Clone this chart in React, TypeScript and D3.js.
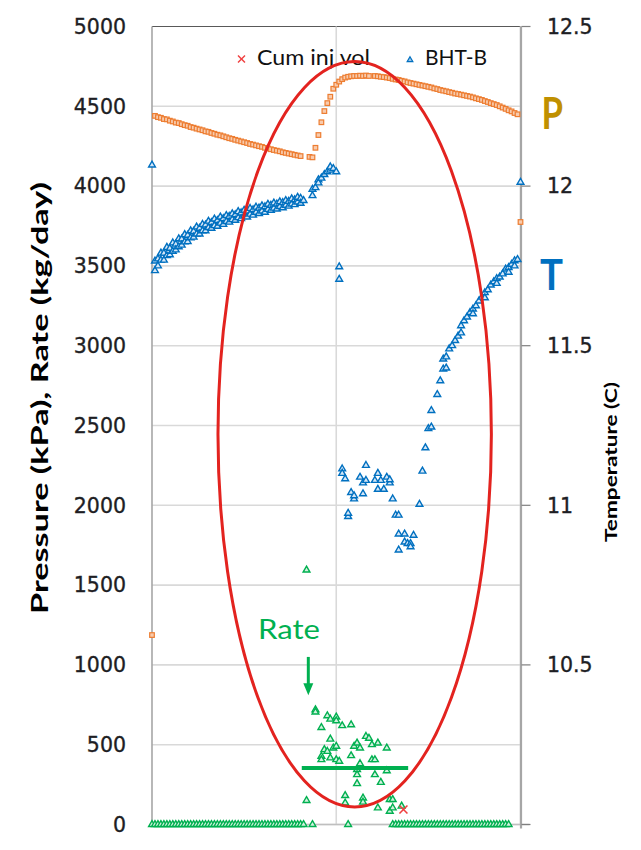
import React from "react";
import * as d3 from "d3";

// Logged at a fixed interval; each entry is one reading slot.
// An entry may hold several readings (array) or none (null).
const SAMPLE_STEP_H = 0.5;

// Bottom-hole pressure, kPa
const pressureKPa: (number | null)[] = [
  1187,
  4440, 4432, 4428, 4420, 4418, 4410, 4405, 4398, 4395, 4388,
  4382, 4378, 4370, 4366, 4360, 4355, 4350, 4343, 4340, 4333,
  4328, 4322, 4318, 4312, 4306, 4300, 4296, 4290, 4285, 4280,
  4275, 4270, 4264, 4260, 4255, 4250, 4246, 4240, 4236, 4231,
  4226, 4222, 4218, 4212, 4208, 4204, 4200, 4196, 4192, 4188,
  null, null, 4183, 4180, 4240, 4320, 4400, 4470, 4520, 4560,
  4610, 4635, 4655, 4670, 4680, 4685, 4688, 4690, 4690, 4692,
  4690, 4693, 4690, null, 4690, 4688, 4685, 4683, 4680, 4677,
  4672, 4668, 4665, 4660, 4656, 4650, 4646, 4642, 4638, 4634,
  4630, 4626, 4622, 4618, 4612, 4608, 4602, 4598, 4594, 4589,
  4585, 4580, 4577, 4573, 4569, 4565, 4561, 4556, 4550, 4545,
  4540, 4533, 4527, 4520, 4514, 4508, 4500, 4492, 4484, 4475,
  4468, 4458, 4450, 3775,
];

// BHT-B bottom-hole temperature, deg C
const temperatureC: (number | number[] | null)[] = [
  12.066,
  [11.735, 11.765], [11.772, 11.75], [11.768, 11.79], [11.79, 11.768], [11.782, 11.808],
  [11.805, 11.785], [11.796, 11.822], [11.818, 11.8], [11.81, 11.835], [11.834, 11.815],
  [11.825, 11.848], [11.846, 11.826], [11.838, 11.86], [11.858, 11.84], [11.85, 11.872],
  [11.868, 11.85], [11.86, 11.88], [11.878, 11.86], [11.87, 11.89], [11.886, 11.868],
  [11.876, 11.897], [11.892, 11.874], [11.884, 11.903], [11.898, 11.88], [11.889, 11.908],
  [11.905, 11.887], [11.895, 11.913], [11.91, 11.893], [11.901, 11.92], [11.916, 11.898],
  [11.906, 11.924], [11.921, 11.903], [11.912, 11.93], [11.926, 11.909], [11.918, 11.934],
  [11.931, 11.914], [11.922, 11.938], [11.935, 11.918], [11.927, 11.943], [11.94, 11.924],
  [11.931, 11.947], [11.944, 11.928], [11.936, 11.951], [11.948, 11.932], [11.94, 11.955],
  [11.952, 11.937], [11.944, 11.96], [11.957, 11.942], [11.95, 11.965], [11.962, 11.946],
  11.955, null, null, [11.97, 11.99], 11.995, [12.02, 12.01], 12.025, 12.036, 12.045, [12.05, 12.06],
  12.055, 12.045, [11.747, 11.708], [11.114, 11.1], 11.083, [10.965, 10.975], 11.04, [11.02, 11.03], null, 11.088,
  [11.07, 11.036], [11.125, 11.078], null, null, 11.078, [11.1, 11.05], 11.078, 11.05, 11.088, [11.07, 11.08],
  11.02, 10.969, [10.969, 10.91, 10.86], null, [10.91, 10.885], 10.88, [10.88, 10.87], 10.906, null, 11.003,
  11.107, 11.18, 11.24, [11.245, 11.297], null, 11.347, 11.39, [11.427, 11.458], [11.43, 11.465], 11.49,
  11.5, 11.516, 11.53, [11.54, 11.5625], 11.578, 11.59, 11.604, [11.615, 11.6], 11.625, 11.64,
  11.652, [11.666, 11.65], 11.675, 11.69, 11.7, [11.71, 11.695], 11.715, 11.725, 11.74, [11.745, 11.73],
  11.755, [11.766, 11.75], 11.77, 12.012,
];

// Injection rate, kg/day
const rateKgDay: (number | number[] | null)[] = [
  0, 0, 0, 0, 0, 0, 0, 0, 0, 0,
  0, 0, 0, 0, 0, 0, 0, 0, 0, 0,
  0, 0, 0, 0, 0, 0, 0, 0, 0, 0,
  0, 0, 0, 0, 0, 0, 0, 0, 0, 0,
  0, 0, 0, 0, 0, 0, 0, 0, 0, 0,
  0, 0, [1594, 150], null, 0, [719, 705], null, [608, 427, 406], 469, [681, 458],
  [660, 535, 417], 479, [673, 650, 490, 406], 396, 619, [181, 135], 0, [625, 431], 490, [510, 344, 312, 256],
  [479, 381], [166, 140], 552, 540, [500, 406], [406, 312], [104, 510], 264, null, [479, 337],
  [156, 83], [156, 104, 0], 0, 0, [115, 0], 0, 0, 0, 0, 0,
  0, 0, 0, 0, 0, 0, 0, 0, 0, 0,
  0, 0, 0, 0, 0, 0, 0, 0, 0, 0,
  0, 0, 0, 0, 0, 0, 0, 0, 0, 0,
  0, null, null, null, null,
];

// Cumulative injected volume
const cumInjTimeH = [42.3];
const cumInjVol = [94];

// Mean rate over the injection window
const meanRate = 354;
const meanRateSpanH = [25.2, 43.1];

// Axis ticks
const pressureTicks = [0, 500, 1000, 1500, 2000, 2500, 3000, 3500, 4000, 4500, 5000];
const temperatureTicks = [10, 10.5, 11, 11.5, 12, 12.5];
const temperatureTickLabels = ["", "10.5", "11", "11.5", "12", "12.5"];
const timeGridH = [0, 31, 62];
const legendLabels = ["Cum inj vol", "BHT-B"];

const W = 641;
const H = 850;
const PLOT = { left: 152, right: 520.5, top: 26.5, bottom: 824.5 };

const ORANGE = "#ED7D31";
const BLUE = "#0070C0";
const GREEN = "#00B050";
const RED = "#E3231F";
const LABEL = "#1e1e24";

type Pt = { t: number; v: number };
const toPoints = (series: (number | number[] | null)[]): Pt[] =>
  series.flatMap((entry, i) =>
    entry == null
      ? []
      : (Array.isArray(entry) ? entry : [entry]).map((v) => ({ t: i * SAMPLE_STEP_H, v }))
  );

export default function App() {
  const x = d3.scaleLinear().domain([0, 62]).range([PLOT.left, PLOT.right]);
  const yP = d3.scaleLinear().domain([0, 5000]).range([PLOT.bottom, PLOT.top]);
  const yT = d3.scaleLinear().domain([10, 12.5]).range([PLOT.bottom, PLOT.top]);

  const tri = d3.symbol().type(d3.symbolTriangle).size(20)() as string;
  const triSmall = d3.symbol().type(d3.symbolTriangle).size(14)() as string;

  const pPts = toPoints(pressureKPa);
  const tPts = toPoints(temperatureC);
  const rPts = toPoints(rateKgDay);

  // Highlight ellipse around the injection event (data units)
  const ell = { t: 34.1, v: 2445, rt: 23.0, rv: 2335 };
  const ecx = x(ell.t);
  const ecy = yP(ell.v);
  const erx = x(ell.t + ell.rt) - ecx;
  const ery = ecy - yP(ell.v + ell.rv);

  // Arrow pointing at the first rate readings
  const arrowT = 26.3;
  const ax = x(arrowT);
  const ay0 = yP(1050);
  const ay1 = yP(810);

  return (
    <svg
      width={W}
      height={H}
      style={{ position: "absolute", left: 0, top: 0, background: "#fff" }}
      xmlns="http://www.w3.org/2000/svg"
    >
      <rect width={W} height={H} fill="#fff" />

      {/* horizontal gridlines */}
      {pressureTicks.map((d) => (
        <line
          key={"hg" + d}
          x1={PLOT.left}
          x2={PLOT.right}
          y1={yP(d)}
          y2={yP(d)}
          stroke={d === 5000 ? "#595959" : "#d9d9d9"}
          strokeWidth={d === 5000 ? 1.2 : 1.6}
        />
      ))}
      {/* vertical gridlines */}
      {timeGridH.map((d) => (
        <line
          key={"vg" + d}
          x1={x(d)}
          x2={x(d)}
          y1={PLOT.top}
          y2={PLOT.bottom}
          stroke={d === 0 ? "#a6a6a6" : "#d9d9d9"}
          strokeWidth={1.6}
        />
      ))}

      {/* bottom axis line */}
      <line x1={PLOT.left} x2={PLOT.right + 9} y1={PLOT.bottom} y2={PLOT.bottom} stroke="#bfbfbf" strokeWidth={1.6} />

      {/* right (temperature) axis */}
      <line x1={PLOT.right + 0.5} x2={PLOT.right + 0.5} y1={PLOT.top} y2={PLOT.bottom + 4} stroke="#a6a6a6" strokeWidth={2.2} />
      {temperatureTicks.map((d) => (
        <line key={"rt" + d} x1={PLOT.right + 1} x2={PLOT.right + 10} y1={yT(d)} y2={yT(d)} stroke="#7f7f7f" strokeWidth={1.2} />
      ))}

      {/* left tick labels */}
      {pressureTicks.map((d) => (
        <text
          key={"lt" + d}
          x={126}
          y={yP(d)}
          dy="0.36em"
          textAnchor="end"
          fontFamily="DejaVu Sans"
          fontSize={20.5}
          fill={LABEL}
          stroke={LABEL}
          strokeWidth={0.35}
        >
          {d}
        </text>
      ))}
      {/* right tick labels */}
      {temperatureTicks.map((d, i) => (
        <text
          key={"rl" + d}
          x={547}
          y={yT(d)}
          dy="0.36em"
          textAnchor="start"
          fontFamily="DejaVu Sans"
          fontSize={20.5}
          fill={LABEL}
          stroke={LABEL}
          strokeWidth={0.35}
        >
          {temperatureTickLabels[i]}
        </text>
      ))}

      {/* axis titles */}
      <text
        transform="translate(48,398) rotate(-90)"
        textAnchor="middle"
        fontFamily="Lato"
        fontWeight={700}
        fontSize={23}
        textLength={432}
        lengthAdjust="spacingAndGlyphs"
        fill="#000"
      >
        Pressure (kPa), Rate (kg/day)
      </text>
      <text
        transform="translate(617,462) rotate(-90)"
        textAnchor="middle"
        fontFamily="Lato"
        fontWeight={700}
        fontSize={17}
        textLength={160}
        lengthAdjust="spacingAndGlyphs"
        fill="#000"
      >
        Temperature (C)
      </text>

      {/* pressure markers */}
      <g>
        {pPts.map((p, i) => (
          <rect
            key={"p" + i}
            x={x(p.t) - 2.3}
            y={yP(p.v) - 2.3}
            width={4.6}
            height={4.6}
            fill="#F8CBAD"
            stroke={ORANGE}
            strokeWidth={1.2}
          />
        ))}
      </g>

      {/* temperature markers */}
      <g>
        {tPts.map((p, i) => (
          <path
            key={"t" + i}
            d={tri}
            transform={`translate(${x(p.t)},${yT(p.v)})`}
            fill="#d6e7f7"
            stroke={BLUE}
            strokeWidth={1.4}
          />
        ))}
      </g>

      {/* rate markers */}
      <g>
        {rPts.map((p, i) => (
          <path
            key={"r" + i}
            d={tri}
            transform={`translate(${x(p.t)},${yP(p.v)})`}
            fill="#d3f1df"
            stroke={GREEN}
            strokeWidth={1.4}
          />
        ))}
      </g>

      {/* cumulative injected volume */}
      {cumInjTimeH.map((t, i) => {
        const cx = x(t);
        const cy = yP(cumInjVol[i]);
        return (
          <g key={"c" + i} stroke="#F04040" strokeWidth={1.6}>
            <line x1={cx - 4} y1={cy - 4} x2={cx + 4} y2={cy + 4} />
            <line x1={cx - 4} y1={cy + 4} x2={cx + 4} y2={cy - 4} />
          </g>
        );
      })}

      {/* mean rate line */}
      <line
        x1={x(meanRateSpanH[0])}
        x2={x(meanRateSpanH[1])}
        y1={yP(meanRate)}
        y2={yP(meanRate)}
        stroke={GREEN}
        strokeWidth={4}
      />

      {/* legend */}
      <g stroke="#F04040" strokeWidth={1.5}>
        <line x1={238} y1={55.5} x2={245} y2={62.5} />
        <line x1={238} y1={62.5} x2={245} y2={55.5} />
      </g>
      <text x={257} y={65} fontFamily="Lato" fontSize={22} textLength={113} lengthAdjust="spacingAndGlyphs" fill="#111">
        {legendLabels[0]}
      </text>
      <path d={triSmall} transform="translate(410,60)" fill="#9cc3e6" stroke={BLUE} strokeWidth={1.2} />
      <text x={425} y={65} fontFamily="Lato" fontSize={22} textLength={62} lengthAdjust="spacingAndGlyphs" fill="#111">
        {legendLabels[1]}
      </text>

      {/* highlight ellipse */}
      <ellipse cx={ecx} cy={ecy} rx={erx} ry={ery} fill="none" stroke={RED} strokeWidth={3} />

      {/* rate annotation */}
      <text x={258} y={639} fontFamily="Lato" fontSize={27} textLength={62} lengthAdjust="spacingAndGlyphs" fill={GREEN}>
        Rate
      </text>
      <line x1={ax} x2={ax} y1={ay0} y2={ay1 - 10} stroke={GREEN} strokeWidth={3} />
      <path d={`M${ax - 5},${ay1 - 12} L${ax + 5},${ay1 - 12} L${ax},${ay1} Z`} fill={GREEN} />

      {/* series labels */}
      <text x={541.5} y={129} fontFamily="Lato" fontWeight={700} fontSize={43} textLength={21.5} lengthAdjust="spacingAndGlyphs" fill="#C09000">
        P
      </text>
      <text x={540} y={290} fontFamily="Lato" fontWeight={700} fontSize={42} textLength={23} lengthAdjust="spacingAndGlyphs" fill={BLUE}>
        T
      </text>
    </svg>
  );
}
